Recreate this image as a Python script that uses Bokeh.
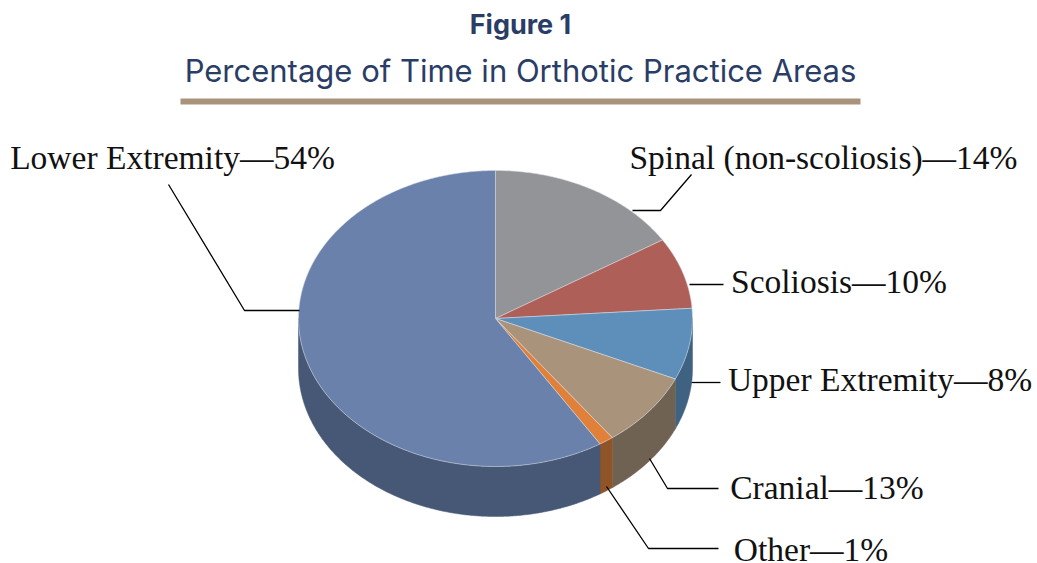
import numpy as np
from bokeh.plotting import figure
from bokeh.embed import file_html
from bokeh.resources import INLINE
from bokeh.core.properties import value
from bokeh.models import Range1d

# Data
categories = ["Spinal (non-scoliosis)", "Scoliosis", "Upper Extremity", "Cranial", "Other", "Lower Extremity"]
label_percent = [14, 10, 8, 13, 1, 54]
# slice shares as drawn in the picture (the 3D pie is not proportional to its labels)
drawn_share = [16.1, 7.8, 7.8, 8.2, 1.2, 58.9]
top_colors = ["#939498", "#ae5f58", "#5e8fba", "#aa937b", "#e08039", "#6981ab"]
side_colors = ["#6e6f72", "#834742", "#3f6282", "#6f6253", "#8f5427", "#465875"]

# Layout (page pixels)
W, H = 1037, 563
CX, CY, RX, RY, DEPTH = 495, 318, 197, 148, 50
# centre of each label
label_pos = [(823, 157), (838.5, 281), (879.5, 379), (826.5, 487), (810.5, 549), (172, 157)]
leaders = [
    [(691, 174), (660, 210), (632, 210)],
    [(689, 284), (723, 284)],
    [(691, 382), (720, 382)],
    [(649, 458), (667, 488), (718, 488)],
    [(606, 486), (648, 548), (718, 548)],
    [(168, 184), (244, 310), (299, 310)],
]
LABEL_FONT = "Liberation Serif"
LABEL_SIZE = "33.5px"
TITLE_FONT = "Inter"
NAVY = "#2a3d66"

p = figure(width=W, height=H, output_backend="svg", toolbar_location=None,
           x_range=Range1d(0, W), y_range=Range1d(H, 0),
           min_border=0, outline_line_color=None)
p.axis.visible = False
p.grid.visible = False
p.background_fill_color = "white"
p.border_fill_color = "white"


def arc(t0, t1, dy=0.0):
    t = np.radians(np.linspace(t0, t1, max(int(abs(t1 - t0)) * 2, 2) + 1))
    return CX + RX * np.sin(t), CY + dy - RY * np.cos(t)


edges = np.cumsum([0] + drawn_share) / sum(drawn_share) * 360

# side walls (only the near half of the cylinder shows)
wx, wy, wc = [], [], []
for i, c in enumerate(side_colors):
    a, b = max(edges[i], 90), min(edges[i + 1], 270)
    if b <= a:
        continue
    x0, y0 = arc(a, b)
    x1, y1 = arc(b, a, DEPTH)
    wx.append(np.r_[x0, x1]); wy.append(np.r_[y0, y1]); wc.append(c)
p.patches(wx, wy, fill_color=wc, line_color=wc, line_width=0.5)

# top face
sx, sy = [], []
for i in range(len(drawn_share)):
    x, y = arc(edges[i], edges[i + 1])
    sx.append(np.r_[CX, x]); sy.append(np.r_[CY, y])
p.patches(sx, sy, fill_color=top_colors, line_color="#d8dbe2", line_width=0.7, line_alpha=0.8)

# leader lines
p.multi_line([[q[0] for q in l] for l in leaders], [[q[1] for q in l] for l in leaders],
             line_color="black", line_width=1.3)

# labels
texts = [f"{c}\u2014{v}%" for c, v in zip(categories, label_percent)]
p.text([q[0] for q in label_pos], [q[1] for q in label_pos], text=texts,
       text_font=value(LABEL_FONT), text_font_size=value(LABEL_SIZE), text_color="#111111",
       text_align="center", text_baseline="middle")

# heading
p.text([520], [24], text=["Figure 1"], text_font=value(TITLE_FONT), text_font_size=value("27px"),
       text_font_style="bold", text_color=NAVY, text_align="center", text_baseline="middle")
p.text([520], [70], text=["Percentage of Time in Orthotic Practice Areas"], text_font=value(TITLE_FONT),
       text_font_size=value("31px"), text_color=NAVY, text_align="center", text_baseline="middle")
p.line([180, 860], [101, 101], line_color="#aa937b", line_width=6)

open("out.html", "w").write(file_html(p, INLINE))
